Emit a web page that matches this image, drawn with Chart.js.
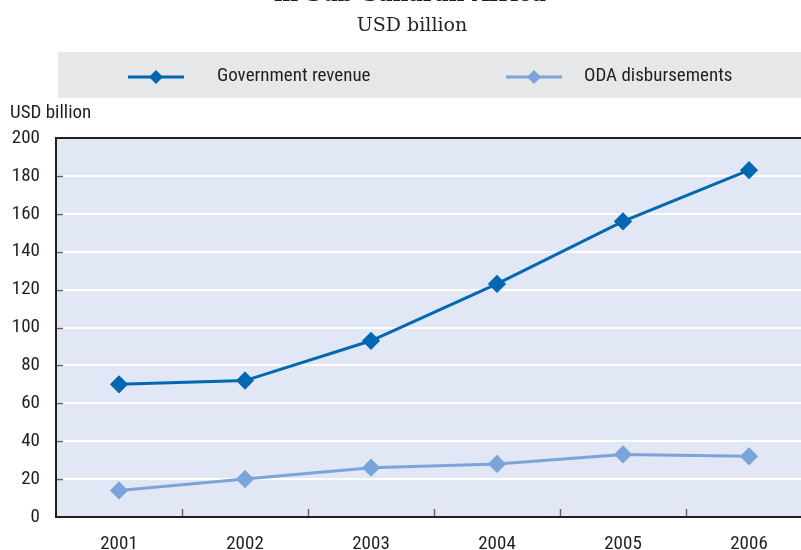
<!DOCTYPE html>
<html>
<head>
<meta charset="utf-8">
<script src="https://cdn.jsdelivr.net/npm/chart.js@4"></script>
<style>
  html, body { margin: 0; padding: 0; background: #fff; overflow: hidden; }
  #wrap { width: 801px; height: 550px; overflow: hidden; }
</style>
</head>
<body>
<div id="wrap"><canvas id="chart" width="830" height="550"></canvas></div>
<script>
// data
const years = ['2001', '2002', '2003', '2004', '2005', '2006'];
const govRevenue = [70, 72, 93, 123, 156, 183];
const odaDisbursements = [14, 20, 26, 28, 33, 32];
const yTicks = [0, 20, 40, 60, 80, 100, 120, 140, 160, 180, 200];

const NARROW = '"Liberation Sans Narrow", "Arial Narrow", "Roboto Condensed", sans-serif';
const DARK = '#0067b1';
const LIGHT = '#7ba4d9';

// background, border, inner ticks, legend band and titles
const decor = {
  id: 'decor',
  beforeDraw(chart) {
    const { ctx, chartArea: a } = chart;
    ctx.save();
    ctx.fillStyle = '#e1e7f4';
    ctx.fillRect(a.left, a.top, a.right - a.left, a.bottom - a.top);
    ctx.restore();
  },
  afterDatasetsDraw(chart) {
    const { ctx, chartArea: a, scales } = chart;
    ctx.save();
    // small ticks inside the plot
    ctx.strokeStyle = '#666';
    ctx.lineWidth = 1.5;
    yTicks.forEach(v => {
      if (v === 0 || v === 200) return;
      const y = Math.round(scales.y.getPixelForValue(v)) + 0.5;
      ctx.beginPath(); ctx.moveTo(a.left, y); ctx.lineTo(a.left + 7, y); ctx.stroke();
    });
    const step = (a.right - a.left) / years.length;
    for (let i = 1; i < years.length; i++) {
      const x = Math.round(a.left + i * step) + 0.5;
      ctx.beginPath(); ctx.moveTo(x, a.bottom); ctx.lineTo(x, a.bottom - 8); ctx.stroke();
    }
    // frame
    ctx.strokeStyle = '#231f20';
    ctx.lineWidth = 2;
    ctx.strokeRect(a.left, a.top, a.right - a.left, a.bottom - a.top);

    // legend band
    ctx.fillStyle = '#e6e7e9';
    ctx.fillRect(58, 52, 772, 46);
    const items = [
      { x: 128, tx: 217, label: 'Government revenue', color: DARK },
      { x: 506, tx: 584, label: 'ODA disbursements', color: LIGHT }
    ];
    items.forEach(it => {
      ctx.strokeStyle = it.color;
      ctx.lineWidth = 3;
      ctx.beginPath(); ctx.moveTo(it.x, 77); ctx.lineTo(it.x + 56, 77); ctx.stroke();
      ctx.fillStyle = it.color;
      ctx.beginPath();
      const cx = it.x + 28;
      ctx.moveTo(cx, 70); ctx.lineTo(cx + 7, 77); ctx.lineTo(cx, 84); ctx.lineTo(cx - 7, 77);
      ctx.closePath(); ctx.fill();
      ctx.fillStyle = '#231f20';
      ctx.font = '19px ' + NARROW;
      ctx.textBaseline = 'middle';
      ctx.textAlign = 'left';
      ctx.fillText(it.label, it.tx, 76);
    });

    // axis unit
    ctx.fillText('USD billion', 10, 113);

    // title (cut at the top) and subtitle
    ctx.textAlign = 'center';
    ctx.textBaseline = 'alphabetic';
    ctx.font = 'bold 22px "DejaVu Serif", serif';
    ctx.fillText('in Sub-Saharan Africa', 410, 1);
    ctx.font = '19px "DejaVu Serif", serif';
    ctx.fillText('USD billion', 412, 31);
    ctx.restore();
  }
};

new Chart(document.getElementById('chart'), {
  type: 'line',
  data: {
    labels: years,
    datasets: [
      {
        label: 'Government revenue',
        data: govRevenue,
        borderColor: DARK,
        backgroundColor: DARK,
        borderWidth: 3,
        pointStyle: 'rectRot',
        pointRadius: 7,
        pointHoverRadius: 7,
        tension: 0
      },
      {
        label: 'ODA disbursements',
        data: odaDisbursements,
        borderColor: LIGHT,
        backgroundColor: LIGHT,
        borderWidth: 3,
        pointStyle: 'rectRot',
        pointRadius: 7,
        pointHoverRadius: 7,
        tension: 0
      }
    ]
  },
  options: {
    responsive: false,
    animation: false,
    events: [],
    layout: { padding: { top: 138, right: 18, left: 0, bottom: 0 } },
    plugins: { legend: { display: false }, tooltip: { enabled: false } },
    scales: {
      x: {
        offset: true,
        grid: { display: false },
        border: { display: false },
        ticks: { color: '#231f20', font: { family: NARROW, size: 19 }, padding: 8, maxRotation: 0 },
        afterFit(s) { s.height = 33; }
      },
      y: {
        min: 0,
        max: 200,
        afterBuildTicks(s) { s.ticks = yTicks.map(v => ({ value: v })); },
        grid: { color: '#ffffff', lineWidth: 2, drawTicks: false },
        border: { display: false },
        ticks: { color: '#231f20', font: { family: NARROW, size: 19 }, padding: 16 },
        afterFit(s) { s.width = 56; }
      }
    }
  },
  plugins: [decor]
});
</script>
</body>
</html>
